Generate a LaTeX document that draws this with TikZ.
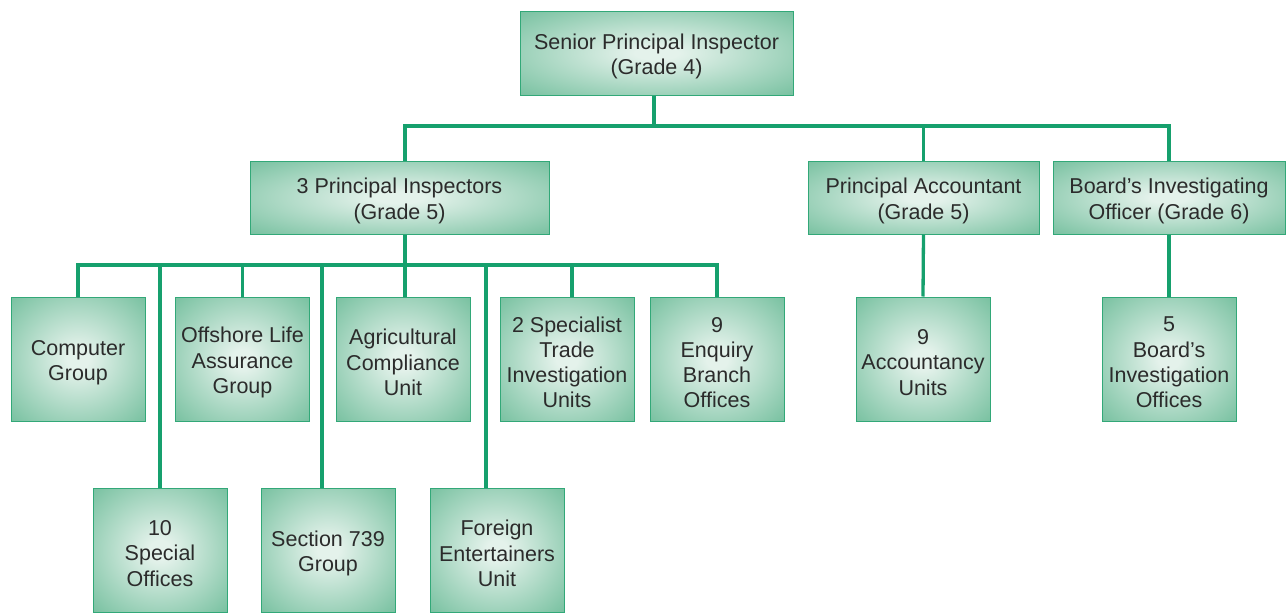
\documentclass[tikz,border=0pt]{standalone}
\usepackage{fontspec}
\setmainfont{Liberation Sans}
\definecolor{linec}{HTML}{16A06D}
\definecolor{borderc}{HTML}{32A878}
\definecolor{innerc}{HTML}{E4F2EB}
\definecolor{outerc}{HTML}{76C09F}
\definecolor{textc}{HTML}{2B2B2B}
\pgfdeclareradialshading{boxshade}{\pgfpoint{0bp}{0bp}}{color(0bp)=(innerc); color(4bp)=(innerc); color(36bp)=(outerc); color(50bp)=(outerc)}
\begin{document}
\begin{tikzpicture}[x=1pt,y=-1pt,
  txt/.style={align=center, text=textc, font=\fontsize{21.5}{25.2}\selectfont, inner sep=0pt, yshift=-3.5pt},
  orgbox/.style={draw=borderc, line width=1pt, shading=boxshade, inner sep=0pt, label={[txt]center:#1}},
  wide/.style={orgbox=#1, minimum height=73pt},
  sq/.style={orgbox=#1, minimum width=134pt, minimum height=124pt},
  conn/.style={draw=linec, line width=3.3pt}]
\useasboundingbox (0,0) rectangle (1286,613);
\coordinate (b1) at (0,126);
\coordinate (b2) at (0,265);
\node[orgbox={Senior Principal Inspector\\(Grade 4)}, minimum width=273pt, minimum height=84pt] (top) at (656.5,53) {};
\node[wide={3 Principal Inspectors\\(Grade 5)}, minimum width=299pt] (pi) at (399.5,197.5) {};
\node[wide={Principal Accountant\\(Grade 5)}, minimum width=231pt] (pa) at (923.5,197.5) {};
\node[wide={Board’s Investigating\\Officer (Grade 6)}, minimum width=232pt] (bio) at (1169,197.5) {};
\node[sq={Computer\\Group}] (cg) at (78,359) {};
\node[sq={Offshore Life\\Assurance\\Group}] (ol) at (242.5,359) {};
\node[sq={Agricultural\\Compliance\\Unit}] (ac) at (403,359) {};
\node[sq={2 Specialist\\Trade\\Investigation\\Units}] (st) at (567,359) {};
\node[sq={9\\Enquiry\\Branch\\Offices}] (eb) at (717,359) {};
\node[sq={9\\Accountancy\\Units}] (au) at (923,359) {};
\node[sq={5\\Board’s\\Investigation\\Offices}] (bo) at (1169,359) {};
\node[sq={10\\Special\\Offices}] (sp) at (160,550) {};
\node[sq={Section 739\\Group}] (s739) at (328,550) {};
\node[sq={Foreign\\Entertainers\\Unit}] (fe) at (497,550) {};
% level 1 -> 2
\draw[conn] ([xshift=-2.5pt]top.south) -- ([xshift=-2.5pt]top.south |- b1);
\draw[conn] ([xshift=5.5pt]pi.north) |- (bio.north |- b1) -- (bio.north);
\draw[conn] (pa.north) -- (pa.north |- b1);
% level 2 -> 3
\draw[conn] ([xshift=5.5pt]pi.south) -- ([xshift=5.5pt]pi.south |- b2);
\draw[conn] (cg.north) |- (eb.north |- b2) -- (eb.north);
\draw[conn] (ol.north) -- (ol.north |- b2);
\draw[conn] ([xshift=2pt]ac.north) -- ([xshift=2pt]ac.north |- b2);
\draw[conn] ([xshift=5pt]st.north) -- ([xshift=5pt]st.north |- b2);
\draw[conn] (sp.north) -- (sp.north |- b2);
\draw[conn] ([xshift=-6pt]s739.north) -- ([xshift=-6pt]s739.north |- b2);
\draw[conn] ([xshift=-11pt]fe.north) -- ([xshift=-11pt]fe.north |- b2);
\draw[conn] (pa.south) -- (au.north);
\draw[conn] (bio.south) -- (bo.north);
\end{tikzpicture}
\end{document}
